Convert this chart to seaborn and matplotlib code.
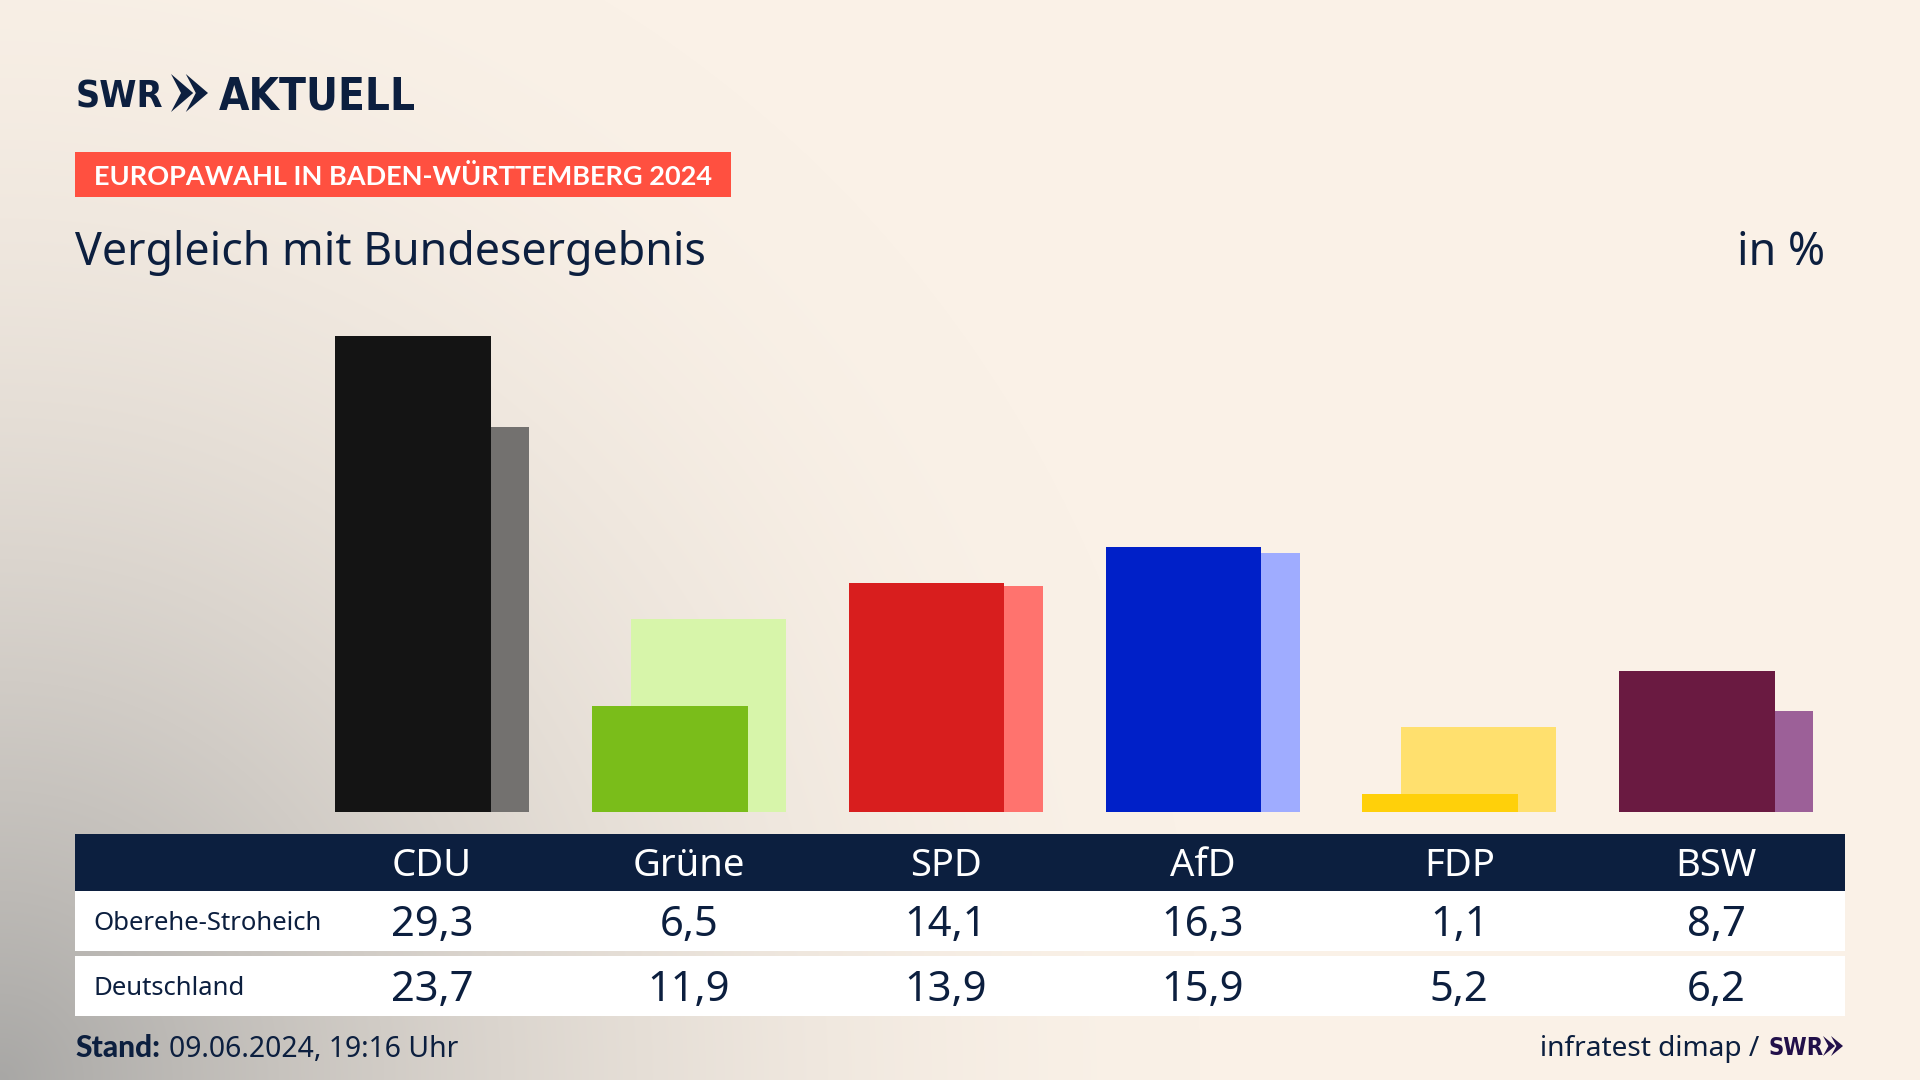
import numpy as np
import pandas as pd
import matplotlib.pyplot as plt
from matplotlib.patches import Polygon, Rectangle
import seaborn as sns

parteien = ['CDU', 'Grüne', 'SPD', 'AfD', 'FDP', 'BSW']
region = [29.3, 6.5, 14.1, 16.3, 1.1, 8.7]
deutschland = [23.7, 11.9, 13.9, 15.9, 5.2, 6.2]
region_label = 'Oberehe-Stroheich'
bund_label = 'Deutschland'
farben_region = ['#141414', '#7ABD1A', '#D81E1E', '#0020C8', '#FFD00A', '#6A1A41']
farben_bund = ['#73716F', '#D7F5AA', '#FF736E', '#9FACFF', '#FFE06E', '#9C6098']

navy = '#0C1F3F'
creme = np.array([250, 241, 231]) / 255
grau = np.array([168, 167, 165]) / 255

sns.set_theme(style='white')
plt.rcParams['font.family'] = ['Noto Sans', 'DejaVu Sans']

fig = plt.figure(figsize=(19.2, 10.8), dpi=100)

# hintergrund, verlauf von unten links
bg = fig.add_axes([0, 0, 1, 1], zorder=0)
yy, xx = np.mgrid[0:1080, 0:1920]
t = np.clip(np.sqrt((xx / 1200) ** 2 + ((1080 - yy) / 1250) ** 2), 0, 1)
t = 1 - (1 - t) ** 1.8
verlauf = grau + (creme - grau) * t[..., None]
bg.imshow(verlauf, extent=(0, 1920, 1080, 0), aspect='auto')
bg.set_xlim(0, 1920)
bg.set_ylim(1080, 0)
bg.axis('off')

# balken, 256.8 px pro partei, 16.26 px pro prozentpunkt
schritt = 256.8
ax = fig.add_axes([75 / 1920, (1080 - 812) / 1080, 1770 / 1920, 512 / 1080], zorder=1)
ax.patch.set_alpha(0)
pos = np.arange(len(parteien))
df_bund = pd.DataFrame({'pos': pos + 38.5 / schritt, 'partei': parteien, 'wert': deutschland})
df_region = pd.DataFrame({'pos': pos, 'partei': parteien, 'wert': region})
sns.barplot(data=df_bund, x='pos', y='wert', hue='partei', palette=dict(zip(parteien, farben_bund)),
            native_scale=True, width=155.5 / schritt, saturation=1, dodge=False, legend=False, linewidth=0, ax=ax)
sns.barplot(data=df_region, x='pos', y='wert', hue='partei', palette=dict(zip(parteien, farben_region)),
            native_scale=True, width=155.5 / schritt, saturation=1, dodge=False, legend=False, linewidth=0, ax=ax)
ax.set_xlim((75 - 413) / schritt, (1845 - 413) / schritt)
ax.set_ylim(0, 512 / 16.26)
ax.axis('off')

# alles andere in pixeln
top = fig.add_axes([0, 0, 1, 1], zorder=2)
top.set_xlim(0, 1920)
top.set_ylim(1080, 0)
top.axis('off')


def chevrons(x, y, w, h, color):
    b = w * 0.6
    for x0 in (x, x + w - b):
        top.add_patch(Polygon([(x0, y), (x0 + b, y + h / 2), (x0, y + h), (x0 + b * 0.45, y + h / 2)],
                              color=color, lw=0))


# logo und kopf
top.text(76, 107, 'SWR', family='DejaVu Sans', stretch='condensed', fontsize=27, fontweight='bold',
         color=navy, va='baseline')
chevrons(171, 74, 37, 38, navy)
top.text(219, 109, 'AKTUELL', family='DejaVu Sans', stretch='condensed', fontsize=31.5, fontweight='bold',
         color=navy, va='baseline')

top.add_patch(Rectangle((75, 152), 656, 45, color='#FF5040', lw=0))
top.text(94, 185, 'EUROPAWAHL IN BADEN-WÜRTTEMBERG 2024', family='Lato', fontsize=19.5, fontweight='bold',
         color='white', va='baseline')
top.text(75, 265, 'Vergleich mit Bundesergebnis', fontsize=32.2, color=navy, va='baseline')
top.text(1825, 265, 'in %', fontsize=32.2, color=navy, va='baseline', ha='right')

# tabelle
top.add_patch(Rectangle((75, 834), 1770, 57, color=navy, lw=0))
top.add_patch(Rectangle((75, 891), 1770, 60, color='white', lw=0))
top.add_patch(Rectangle((75, 956), 1770, 60, color='white', lw=0))
top.text(93, 930, region_label, fontsize=18.5, color=navy, va='baseline')
top.text(93, 995, bund_label, fontsize=18.5, color=navy, va='baseline')
for i, partei in enumerate(parteien):
    x = 432 + schritt * i
    top.text(x, 876, partei, fontsize=27.5, color='white', ha='center', va='baseline')
    top.text(x, 936, f'{region[i]:.1f}'.replace('.', ','), fontsize=30, color=navy, ha='center', va='baseline')
    top.text(x, 1001, f'{deutschland[i]:.1f}'.replace('.', ','), fontsize=30, color=navy, ha='center', va='baseline')

# fusszeile
top.text(75, 1057, 'Stand:', family='Lato', fontsize=21.5, fontweight='black', color=navy, va='baseline')
top.text(169, 1057, '09.06.2024, 19:16 Uhr', fontsize=20.4, color=navy, va='baseline')
top.text(1759, 1056, 'infratest dimap /', fontsize=20.2, color=navy, va='baseline', ha='right')
top.text(1769, 1055, 'SWR', family='DejaVu Sans', stretch='condensed', fontsize=17, fontweight='bold',
         color='#22104A', va='baseline')
chevrons(1823, 1036, 20, 20, '#22104A')

fig.savefig('out.png', dpi=100)
